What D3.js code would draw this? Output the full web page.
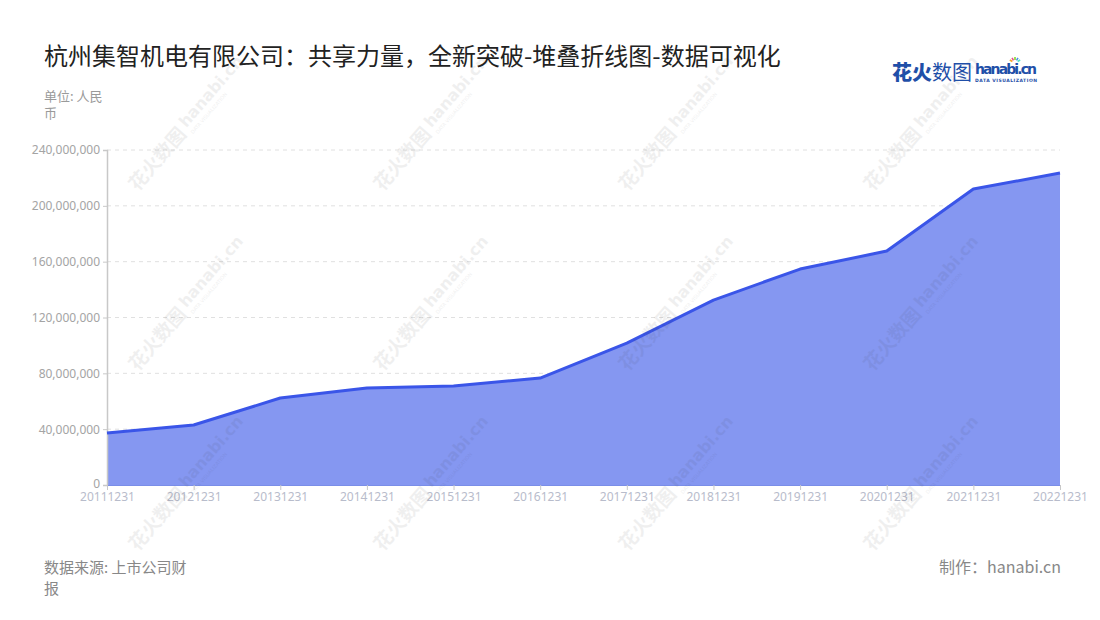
<!DOCTYPE html>
<html>
<head>
<meta charset="utf-8">
<script src="https://cdn.jsdelivr.net/npm/d3@7"></script>
<style>
  body { margin: 0; background: #fff; }
  #vizContainer { width: 1100px; height: 620px; }
  text { font-family: "Noto Sans CJK SC", "Noto Sans", sans-serif; }
</style>
</head>
<body>
<div id="vizContainer"></div>
<script>
// data
const years = ["20111231", "20121231", "20131231", "20141231", "20151231", "20161231",
  "20171231", "20181231", "20191231", "20201231", "20211231", "20221231"];
const revenue = [37200000, 43000000, 62300000, 69500000, 70900000, 76600000,
  101700000, 132500000, 154700000, 167600000, 212000000, 223500000];
const yTicks = [0, 40000000, 80000000, 120000000, 160000000, 200000000, 240000000];

function drawViz() {
  const container = document.getElementById("vizContainer");
  container.innerHTML = "";

  const width = 1100;
  const height = 620;
  const margin = { left: 107, right: 40, top: 150, bottom: 135 };

  const svg = d3.select(container)
    .append("svg")
    .attr("width", width)
    .attr("height", height);

  const x = d3.scalePoint()
    .domain(years)
    .range([margin.left, width - margin.right]);

  const y = d3.scaleLinear()
    .domain([0, 240000000])
    .range([height - margin.bottom, margin.top]);

  // grid lines
  svg.append("g")
    .selectAll("line")
    .data(yTicks.slice(1))
    .enter()
    .append("line")
    .attr("x1", margin.left)
    .attr("x2", width - margin.right)
    .attr("y1", d => y(d))
    .attr("y2", d => y(d))
    .attr("stroke", "#e0e0e0")
    .attr("stroke-dasharray", "4,4");

  // area + line
  const area = d3.area()
    .x((d, i) => x(years[i]))
    .y0(y(0))
    .y1(d => y(d));
  const line = d3.line()
    .x((d, i) => x(years[i]))
    .y(d => y(d));

  svg.append("path")
    .datum(revenue)
    .attr("d", area)
    .attr("fill", "#8597f1");

  // y axis
  const yAxis = svg.append("g")
    .attr("transform", `translate(${margin.left},0)`)
    .call(d3.axisLeft(y).tickValues(yTicks).tickSize(4).tickFormat(d3.format(",")));
  yAxis.select(".domain").attr("stroke", "#c8c8c8").attr("stroke-width", 1.5);
  yAxis.selectAll(".tick line").attr("stroke", "#c8c8c8");
  yAxis.selectAll(".tick text")
    .attr("fill", "#a4a4a4")
    .attr("font-size", 12)
    .attr("x", -7)
    .style("font-family", "'Noto Sans', sans-serif");
  // lift the "0" label a bit so it clears the first x label
  yAxis.selectAll(".tick text").filter(d => d === 0).attr("dy", "0.2em");

  // x axis
  const xAxis = svg.append("g")
    .attr("transform", `translate(0,${y(0)})`)
    .call(d3.axisBottom(x).tickSize(5).tickSizeOuter(0));
  xAxis.select(".domain").attr("stroke", "#7a8ee8").attr("stroke-width", 1.2);
  xAxis.selectAll(".tick line").attr("stroke", "#c8c8c8");
  xAxis.selectAll(".tick text")
    .attr("fill", "#b8bccb")
    .attr("font-size", 12)
    .attr("dy", "0.95em")
    .attr("y", 5)
    .style("font-family", "'Noto Sans', sans-serif");

  svg.append("path")
    .datum(revenue)
    .attr("d", line)
    .attr("fill", "none")
    .attr("stroke", "#3a55e8")
    .attr("stroke-width", 3)
    .attr("stroke-linejoin", "round");

  // watermarks
  const wm = svg.append("g").attr("pointer-events", "none");
  const cols = [182, 427, 672, 917];
  const rows = [130, 310, 490];
  rows.forEach(cy => {
    cols.forEach(cx => {
      const g = wm.append("g")
        .attr("transform", `translate(${cx},${cy}) rotate(-49)`)
        .attr("opacity", 0.07);
      g.append("text")
        .attr("x", -76).attr("y", 7)
        .attr("font-size", 19).attr("font-weight", 700)
        .attr("fill", "#333")
        .text("花火数图");
      g.append("text")
        .attr("x", 4).attr("y", 2)
        .attr("font-size", 16).attr("font-weight", 700)
        .attr("fill", "#333")
        .style("font-family", "'DejaVu Sans', sans-serif")
        .text("hanabi.cn");
      g.append("text")
        .attr("x", 4).attr("y", 11)
        .attr("font-size", 5)
        .attr("fill", "#333")
        .style("font-family", "'DejaVu Sans', sans-serif")
        .text("DATA VISUALIZATION");
    });
  });

  // title and notes
  svg.append("text")
    .attr("x", 44).attr("y", 65)
    .attr("font-size", 24)
    .attr("fill", "#222")
    .text("杭州集智机电有限公司：共享力量，全新突破-堆叠折线图-数据可视化");

  svg.append("text")
    .attr("x", 44).attr("y", 101)
    .attr("font-size", 13).attr("fill", "#9a9a9a")
    .text("单位: 人民");
  svg.append("text")
    .attr("x", 44).attr("y", 118)
    .attr("font-size", 13).attr("fill", "#9a9a9a")
    .text("币");

  svg.append("text")
    .attr("x", 44).attr("y", 573)
    .attr("font-size", 15).attr("fill", "#888")
    .text("数据来源: 上市公司财");
  svg.append("text")
    .attr("x", 44).attr("y", 594)
    .attr("font-size", 15).attr("fill", "#888")
    .text("报");

  svg.append("text")
    .attr("x", 1061).attr("y", 573)
    .attr("text-anchor", "end")
    .attr("font-size", 16).attr("fill", "#888")
    .text("制作：hanabi.cn");

  // logo
  const logo = svg.append("g");
  logo.append("text")
    .attr("x", 892).attr("y", 80)
    .attr("font-size", 20).attr("font-weight", 900)
    .attr("fill", "#1f4fa8")
    .text("花火");
  logo.append("text")
    .attr("x", 932).attr("y", 80)
    .attr("font-size", 20).attr("font-weight", 400)
    .attr("fill", "#1f4fa8")
    .text("数图");
  logo.append("text")
    .attr("x", 975).attr("y", 74)
    .attr("font-size", 14).attr("font-weight", 700)
    .attr("fill", "#1f4fa8")
    .attr("textLength", 62)
    .style("font-family", "'DejaVu Sans', sans-serif")
    .text("hanabi.cn");
  logo.append("text")
    .attr("x", 975).attr("y", 82)
    .attr("font-size", 4.5).attr("font-weight", 700)
    .attr("fill", "#1f4fa8")
    .attr("textLength", 62)
    .style("font-family", "'DejaVu Sans', sans-serif")
    .text("DATA VISUALIZATION");
  const sparkColors = ["#f5a623", "#e94b8a", "#7ed321", "#4a90e2", "#50e3c2"];
  sparkColors.forEach((c, i) => {
    const a = (-150 + i * 30) * Math.PI / 180;
    logo.append("line")
      .attr("x1", 1015 + Math.cos(a) * 3).attr("y1", 63 + Math.sin(a) * 3)
      .attr("x2", 1015 + Math.cos(a) * 6).attr("y2", 63 + Math.sin(a) * 6)
      .attr("stroke", c).attr("stroke-width", 1.5);
  });
}

drawViz();
</script>
</body>
</html>
